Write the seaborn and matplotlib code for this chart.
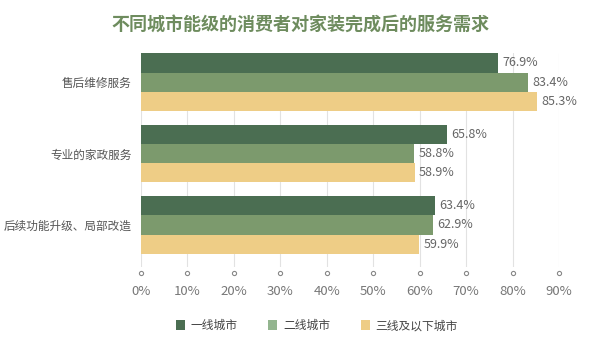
import pandas as pd
import seaborn as sns
import matplotlib.pyplot as plt
import matplotlib.transforms as mtransforms
from matplotlib.patches import Patch

# Data
services = ['售后维修服务', '专业的家政服务', '后续功能升级、局部改造']
tiers = ['一线城市', '二线城市', '三线及以下城市']
tier1 = [76.9, 65.8, 63.4]
tier2 = [83.4, 58.8, 62.9]
tier3 = [85.3, 58.9, 59.9]
xticks = [0, 10, 20, 30, 40, 50, 60, 70, 80, 90]

colors = ['#4B6E52', '#7C9A6D', '#EECD86']
legend_colors = ['#4B6E52', '#93B58F', '#EECD86']

df = pd.DataFrame({
    'service': services * 3,
    'tier': [tiers[0]] * 3 + [tiers[1]] * 3 + [tiers[2]] * 3,
    'value': tier1 + tier2 + tier3,
})

sns.set_style('white')
plt.rcParams['font.family'] = ['Noto Sans CJK SC', 'DejaVu Sans']

fig = plt.figure(figsize=(6, 3.53), dpi=100)
ax = fig.add_axes([0.235, 0.2436, 0.6967, 0.6063])

sns.barplot(
    data=df, y='service', x='value', hue='tier',
    order=services, hue_order=tiers,
    palette=colors, width=0.81, orient='h',
    saturation=1, legend=False, ax=ax, zorder=2,
    linewidth=0, edgecolor='none',
)

# value labels at the end of each bar
for container in ax.containers:
    ax.bar_label(container, fmt='%.1f%%', padding=3,
                 fontsize=9, color='#666666')

ax.set_xlim(0, 90)
ax.set_ylim(2.59, -0.41)
ax.set_xticks(xticks)
ax.set_xticklabels([f'{t}%' for t in xticks], color='#777777', fontsize=9.5)
ax.tick_params(axis='x', length=0, pad=13)
ax.tick_params(axis='y', length=0, pad=7, labelsize=8.4, labelcolor='#555555')
ax.set_xlabel('')
ax.set_ylabel('')
for s in ax.spines.values():
    s.set_visible(False)
ax.grid(axis='x', color='#E2E2E2', linewidth=0.8, zorder=0)

# small circle markers under each gridline
trans = mtransforms.blended_transform_factory(ax.transData, ax.transAxes)
ax.plot(xticks, [-0.03] * len(xticks), linestyle='none', marker='o',
        markersize=3, markerfacecolor='white', markeredgecolor='#888888',
        markeredgewidth=0.8, transform=trans, clip_on=False)

fig.suptitle('不同城市能级的消费者对家装完成后的服务需求', x=0.5, y=0.955,
             fontsize=13, fontweight='bold', color='#6E8C5E')

handles = [Patch(facecolor=c, edgecolor='none') for c in legend_colors]
fig.legend(handles, tiers, loc='center', bbox_to_anchor=(0.528, 0.077),
           ncol=3, frameon=False, fontsize=8.5, handlelength=0.75,
           handleheight=0.9, columnspacing=2.6, handletextpad=0.5,
           labelcolor='#444444')

fig.savefig('out.png', dpi=100)
